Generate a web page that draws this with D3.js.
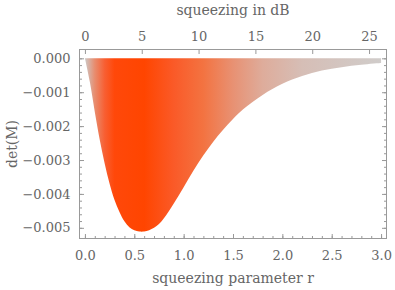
<!DOCTYPE html>
<html>
<head>
<meta charset="utf-8">
<script src="https://cdn.jsdelivr.net/npm/d3@7"></script>
<style>
  body { margin: 0; background: #fff; }
  text { font-family: "DejaVu Serif", serif; fill: #666; }
</style>
</head>
<body>
<div id="chart"></div>
<script>
// squeezing parameter r and det(M)
const rValues = [0, 0.05, 0.1, 0.15, 0.2, 0.25, 0.3, 0.35, 0.4, 0.45, 0.5, 0.55, 0.6, 0.65, 0.7, 0.75,
                 0.8, 0.9, 1.0, 1.1, 1.2, 1.3, 1.4, 1.5, 1.6, 1.8, 2.0, 2.2, 2.4, 2.6, 2.8, 3.0];
const detValues = [0, -0.00070, -0.00158, -0.00240, -0.00310, -0.00370, -0.00418, -0.00453, -0.00481,
                   -0.00498, -0.00507, -0.00511, -0.00511, -0.00507, -0.00500, -0.00489,
                   -0.00472, -0.00428, -0.00380, -0.00331, -0.00286, -0.00246, -0.00211, -0.00179,
                   -0.00151, -0.00108, -0.00075, -0.00052, -0.00036, -0.00026, -0.00019, -0.00014];

// fill colour along r
const gradR = [0, 0.1, 0.2, 0.3, 0.6, 0.9, 1.2, 1.5, 1.8, 2.2, 3.0];
const gradColors = ["#cdc8c6", "#e88c6e", "#f85f32", "#ff480a", "#ff4500", "#fa5a28",
                    "#f37341", "#e89173", "#deac9b", "#d6beb6", "#d0ccca"];

const xTicks = [0, 0.5, 1, 1.5, 2, 2.5, 3];
const yTicks = [0, -0.001, -0.002, -0.003, -0.004, -0.005];
const dbTicks = [0, 5, 10, 15, 20, 25];

const width = 395, height = 290;
const frame = {left: 79, right: 387, top: 49, bottom: 239};
const dBperR = 20 * Math.LOG10E;

const svg = d3.select("#chart").append("svg")
    .attr("width", width)
    .attr("height", height);

const x = d3.scaleLinear().domain([-0.06, 3.06]).range([frame.left, frame.right]);
const y = d3.scaleLinear().domain([0.000275, -0.00533]).range([frame.top, frame.bottom]);
const xdB = d3.scaleLinear().domain([-0.06 * dBperR, 3.06 * dBperR]).range([frame.left, frame.right]);

const data = rValues.map((r, i) => ({r: r, v: detValues[i]}));

// horizontal gradient
const grad = svg.append("defs").append("linearGradient")
    .attr("id", "fillGrad")
    .attr("gradientUnits", "userSpaceOnUse")
    .attr("x1", x(0)).attr("x2", x(3))
    .attr("y1", 0).attr("y2", 0);
grad.selectAll("stop")
    .data(gradR)
    .enter().append("stop")
    .attr("offset", d => d / 3)
    .attr("stop-color", (d, i) => gradColors[i]);

const area = d3.area()
    .x(d => x(d.r))
    .y0(y(0))
    .y1(d => y(d.v))
    .curve(d3.curveCatmullRom.alpha(0.5));

svg.append("path")
    .datum(data)
    .attr("d", area)
    .attr("fill", "url(#fillGrad)");

// frame
const frameColor = "#999";
svg.append("rect")
    .attr("x", frame.left + 0.5).attr("y", frame.top + 0.5)
    .attr("width", frame.right - frame.left - 1)
    .attr("height", frame.bottom - frame.top - 1)
    .attr("fill", "none")
    .attr("stroke", frameColor)
    .attr("stroke-width", 1);

// bottom axis
const bottomAxis = svg.append("g")
    .attr("transform", `translate(0, ${frame.bottom - 0.5})`)
    .call(d3.axisBottom(x).tickValues(d3.range(0, 3.001, 0.1)).tickSize(-2.5).tickFormat(""));
bottomAxis.select(".domain").remove();
bottomAxis.selectAll("line").attr("stroke", frameColor);

const bottomMajor = svg.append("g")
    .attr("transform", `translate(0, ${frame.bottom - 0.5})`)
    .call(d3.axisBottom(x).tickValues(xTicks).tickSize(-4.5).tickPadding(12).tickFormat(d3.format(".1f")));
bottomMajor.select(".domain").remove();
bottomMajor.selectAll("line").attr("stroke", frameColor);
bottomMajor.selectAll("text").attr("font-size", 13).attr("fill", "#666")
    .style("font-family", "DejaVu Serif");

// left and right ticks
[frame.left + 0.5, frame.right - 0.5].forEach((px, k) => {
    const minor = svg.append("g")
        .attr("transform", `translate(${px}, 0)`)
        .call((k === 0 ? d3.axisLeft(y) : d3.axisRight(y))
            .tickValues(d3.range(0, 26).map(i => -i * 0.0002))
            .tickSize(-2.5).tickFormat(""));
    minor.select(".domain").remove();
    minor.selectAll("line").attr("stroke", frameColor);
    const major = svg.append("g")
        .attr("transform", `translate(${px}, 0)`)
        .call((k === 0 ? d3.axisLeft(y) : d3.axisRight(y))
            .tickValues(yTicks).tickSize(-4.5).tickPadding(9)
            .tickFormat(k === 0 ? (d => d === 0 ? "0.000" : "\u2212" + d3.format(".3f")(-d)) : ""));
    major.select(".domain").remove();
    major.selectAll("line").attr("stroke", frameColor);
    major.selectAll("text").attr("font-size", 13).attr("fill", "#666")
        .style("font-family", "DejaVu Serif");
});

// top axis in dB
const topAxis = svg.append("g")
    .attr("transform", `translate(0, ${frame.top + 0.5})`)
    .call(d3.axisTop(xdB).tickValues(dbTicks).tickSize(-4.5).tickPadding(9));
topAxis.select(".domain").remove();
topAxis.selectAll("line").attr("stroke", frameColor);
topAxis.selectAll("text").attr("font-size", 13).attr("fill", "#666")
    .style("font-family", "DejaVu Serif");

// axis titles
svg.append("text")
    .attr("x", (frame.left + frame.right) / 2)
    .attr("y", 283)
    .attr("text-anchor", "middle")
    .attr("font-size", 14)
    .text("squeezing parameter r");

svg.append("text")
    .attr("x", (frame.left + frame.right) / 2)
    .attr("y", 15)
    .attr("text-anchor", "middle")
    .attr("font-size", 14)
    .text("squeezing in dB");

svg.append("text")
    .attr("transform", `translate(17, ${(frame.top + frame.bottom) / 2}) rotate(-90)`)
    .attr("text-anchor", "middle")
    .attr("font-size", 14)
    .text("det(M)");
</script>
</body>
</html>
